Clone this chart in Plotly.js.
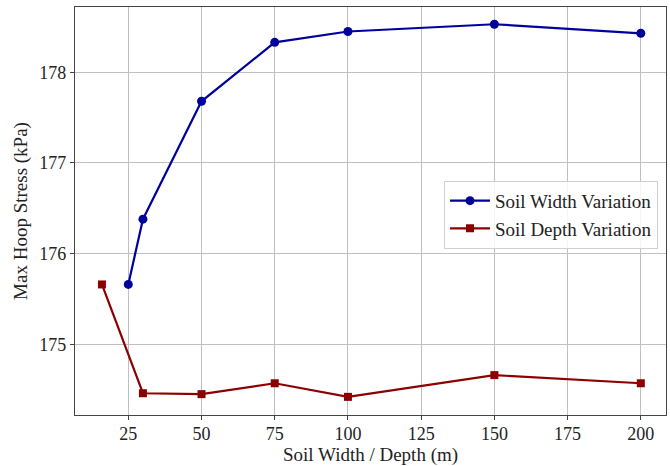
<!DOCTYPE html>
<html>
<head>
<meta charset="utf-8">
<script src="https://cdn.plot.ly/plotly-3.0.1.min.js"></script>
<style>html,body{margin:0;padding:0;background:#fff;}</style>
</head>
<body>
<div id="chart" style="width:670px;height:466px;"></div>
<script>
const widthX = [25, 30, 50, 75, 100, 150, 200];
const widthStress = [175.66, 176.38, 177.68, 178.33, 178.45, 178.53, 178.43];
const depthX = [16, 30, 50, 75, 100, 150, 200];
const depthStress = [175.66, 174.46, 174.45, 174.57, 174.42, 174.66, 174.57];
const xTicks = [25, 50, 75, 100, 125, 150, 175, 200];
const yTicks = [175, 176, 177, 178];

const font = "'Liberation Serif', 'Times New Roman', serif";

const traces = [
  {x: widthX, y: widthStress, name: 'Soil Width Variation', mode: 'lines+markers',
   line: {color: '#00009c', width: 2.2}, marker: {symbol: 'circle', size: 9, color: '#00009c'}},
  {x: depthX, y: depthStress, name: 'Soil Depth Variation', mode: 'lines+markers',
   line: {color: '#8b0000', width: 2.2}, marker: {symbol: 'square', size: 8, color: '#8b0000'}}
];

const axisCommon = {
  showline: true, mirror: true, linecolor: '#444', linewidth: 1.2,
  showgrid: true, gridcolor: '#c0c0c0', gridwidth: 1,
  ticks: 'outside', ticklen: 4, tickcolor: '#444', tickwidth: 1,
  zeroline: false, tickfont: {family: font, size: 18, color: '#222'}
};

const layout = {
  width: 670, height: 466,
  margin: {l: 75, r: 4, t: 7, b: 51},
  paper_bgcolor: '#fff', plot_bgcolor: '#fff',
  font: {family: font, color: '#222'},
  showlegend: true,
  legend: {x: 0.9865, y: 0.574, xanchor: 'right', yanchor: 'top', itemwidth: 40, tracegroupgap: 0,
    bgcolor: 'rgba(255,255,255,0.85)', bordercolor: '#d0d0d0', borderwidth: 1,
    font: {family: font, size: 19, color: '#222'}},
  xaxis: Object.assign({}, axisCommon, {
    range: [6.8, 208.6], tickvals: xTicks, ticktext: xTicks.map(String), ticklabelstandoff: -2,
    title: {text: 'Soil Width / Depth (m)', font: {family: font, size: 19, color: '#222'}, standoff: 7}
  }),
  yaxis: Object.assign({}, axisCommon, {
    range: [174.22, 178.72], tickvals: yTicks, ticktext: yTicks.map(String),
    title: {text: 'Max Hoop Stress (kPa)', font: {family: font, size: 19, color: '#222'}, standoff: 6}
  })
};

Plotly.newPlot('chart', traces, layout, {displayModeBar: false, staticPlot: true});
</script>
</body>
</html>
